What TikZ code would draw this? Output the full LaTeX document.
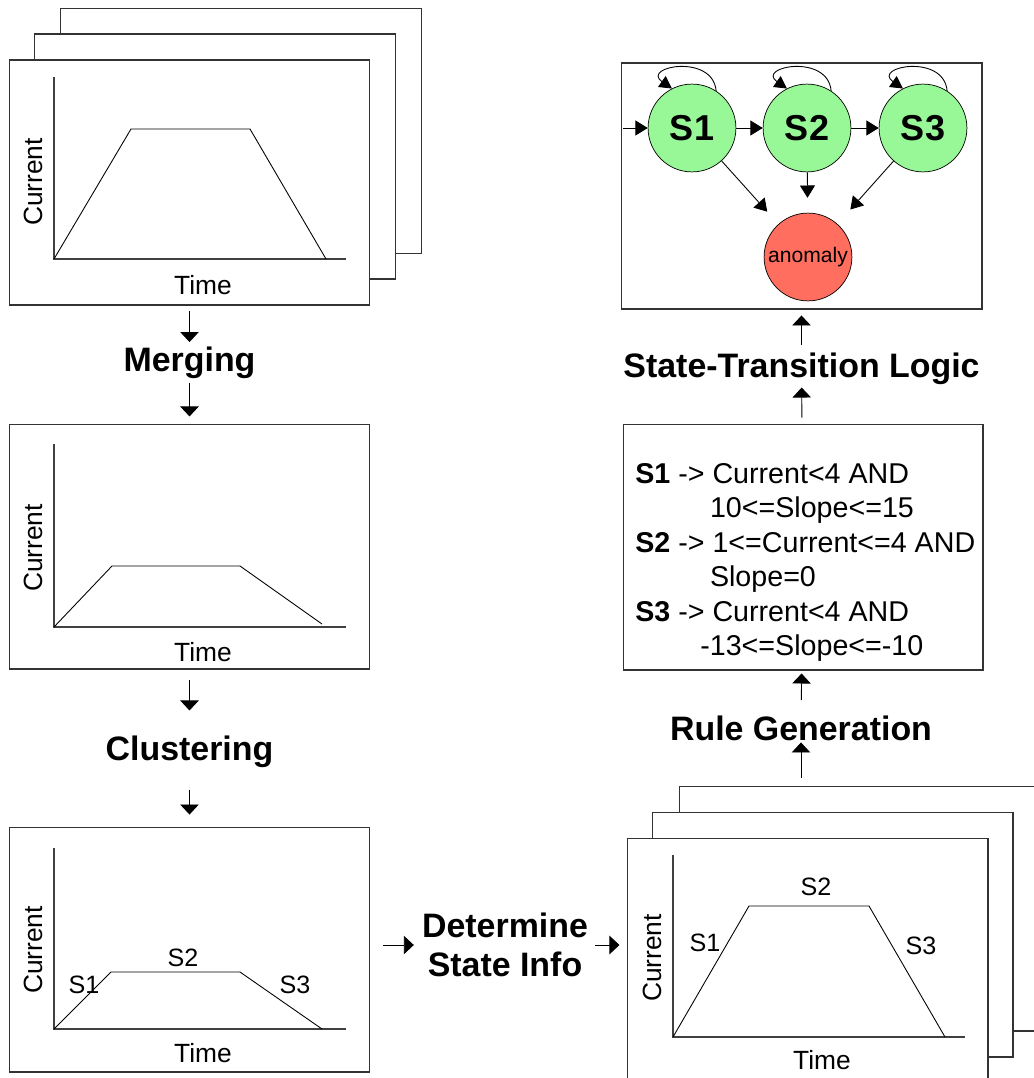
\documentclass[tikz,border=0pt]{standalone}
\usepackage{fontspec}
\setmainfont{Liberation Sans}
\usetikzlibrary{arrows.meta}

\definecolor{stategreen}{RGB}{152,248,152}
\definecolor{anomalyred}{RGB}{255,110,94}

\tikzset{
  panel/.style={draw=black!80, fill=white, line width=0.6pt, inner sep=0pt,
    minimum width=7.22cm, minimum height=4.9cm},
  steplabel/.style={inner sep=0pt, align=center,
    font=\fontsize{19.3}{22.1}\selectfont\bfseries},
  axislabel/.style={inner sep=0pt, font=\fontsize{15}{17}\selectfont},
  seglabel/.style={inner sep=0pt, font=\fontsize{14.3}{16}\selectfont},
  ruletext/.style={inner sep=0pt, align=left,
    font=\fontsize{16.3}{19.6}\selectfont},
  axis/.style={draw=black!75, line width=0.6pt},
  curve/.style={line width=0.5pt},
  flow/.style={-{Triangle[length=5.7pt,width=10.5pt]}, line width=0.5pt},
  fsmflow/.style={-{Triangle[length=7pt,width=8.5pt]}, line width=0.5pt},
  loopflow/.style={-{Triangle[length=7pt,width=7.5pt]}, line width=0.5pt},
  state/.style={circle, draw, fill=stategreen, minimum size=50pt, inner sep=0pt,
    font=\fontsize{20.5}{22}\selectfont\bfseries},
  badstate/.style={circle, draw, fill=anomalyred, minimum size=50pt, inner sep=0pt,
    font=\fontsize{12}{14}\selectfont}
}

\begin{document}
\begin{tikzpicture}[x=0.02cm, y=0.02cm]
        \useasboundingbox (0,0) rectangle (1034,-1078);
        \clip (0,0) rectangle (1034,-1078);

        % Input stack (top left):
        \node[panel] (stackA3) at (241,-131) {};
        \node[panel] (stackA2) at (215,-156.5) {};
        \node[panel] (stackA1) at (189.5,-182.5) {};
        \begin{scope}[shift={(54,-259)}]
        \draw[axis] (0,182) -- (0,0) -- (292,0);
        \draw[curve] (0,0) -- (77,130) -- (196,130) -- (272,0);
        \node[axislabel, rotate=90] (curA) at (-21,77) {Current};
        \node[axislabel] (timeA) at (149,-26) {Time};
        \end{scope}

        % Merged plot:
        \node[panel] (frameB) at (189.5,-546.5) {};
        \begin{scope}[shift={(54,-627)}]
        \draw[axis] (0,183) -- (0,0) -- (292,0);
        \draw[curve] (0,0) -- (58,61) -- (186,61) -- (268,3);
        \node[axislabel, rotate=90] (curB) at (-21,79) {Current};
        \node[axislabel] (timeB) at (149,-25) {Time};
        \end{scope}

        % Clustered plot:
        \node[panel] (frameC) at (189.5,-949.5) {};
        \begin{scope}[shift={(54,-1029)}]
        \draw[axis] (0,181) -- (0,0) -- (292,0);
        \draw[curve] (0,0) -- (57,57) -- (186,57) -- (268,0);
        \node[axislabel, rotate=90] (curC) at (-21,79) {Current};
        \node[axislabel] (timeC) at (149,-24) {Time};
        \node[seglabel] (segC1) at (30,44) {S1};
        \node[seglabel] (segC2) at (129,71) {S2};
        \node[seglabel] (segC3) at (241,44) {S3};
        \end{scope}

        % Labelled stack (bottom right):
        \node[panel] (stackB3) at (859.5,-908.5) {};
        \node[panel] (stackB2) at (832.5,-934.5) {};
        \node[panel] (stackB1) at (807.5,-960.5) {};
        \begin{scope}[shift={(673,-1037)}]
        \draw[axis] (0,182) -- (0,0) -- (292,0);
        \draw[curve] (0,0) -- (76,131) -- (196,131) -- (272,0);
        \node[axislabel, rotate=90] (curD) at (-21,79) {Current};
        \node[axislabel] (timeD) at (149,-23) {Time};
        \node[seglabel] (segD1) at (32,94) {S1};
        \node[seglabel] (segD2) at (143,150) {S2};
        \node[seglabel] (segD3) at (248,91) {S3};
        \end{scope}

        % Rules:
        \node[panel, minimum width=7.2cm, minimum height=4.92cm] (rulebox) at (803,-547) {};
        \node[ruletext, anchor=north west] (rules) at (635,-463) {%
        \textbf{S1} -> Current<4 AND\\
        \hspace*{42.5pt}10<=Slope<=15\\
        \textbf{S2} -> 1<=Current<=4 AND\\
        \hspace*{42.5pt}Slope=0\\
        \textbf{S3} -> Current<4 AND\\
        \hspace*{37pt}-13<=Slope<=-10};

        % State machine:
        \node[panel, minimum width=7.22cm, minimum height=4.92cm] (fsmbox) at (801.5,-186) {};
        \node[state] (s1) at (692,-128) {S1};
        \node[state] (s2) at (807,-128) {S2};
        \node[state] (s3) at (923,-128) {S3};
        \node[badstate] (anomaly) at (808,-257) {anomaly};
        \coordinate (entry) at (623,-128);
        \draw[fsmflow] (entry) -- (s1);
        \draw[fsmflow] (s1) -- (s2);
        \draw[fsmflow] (s2) -- (s3);
        \foreach \s in {s1,s2,s3}{%
        \draw[loopflow] (\s.57) to[out=95, in=145, looseness=2.2] (\s.117);
        }
        \draw[fsmflow, shorten >=9.5pt] (s1) -- (anomaly);
        \draw[fsmflow, shorten >=8.5pt] (s2) -- (anomaly);
        \draw[fsmflow, shorten >=11pt] (s3) -- (anomaly);

        % Step labels:
        \node[steplabel, anchor=base] (merging) at (189.5,-371) {Merging};
        \node[steplabel, anchor=base] (clustering) at (189.5,-760) {Clustering};
        \node[steplabel] (determine) at (505,-945) {Determine\\State Info};
        \node[steplabel, anchor=base] (rulegen) at (801,-740) {Rule Generation};
        \node[steplabel, anchor=base] (statelogic) at (801.5,-377) {State-Transition Logic};

        % Flow arrows:
        \draw[flow, shorten <=3.4pt, shorten >=2.3pt] (stackA1) -- (merging);
        \draw[flow, shorten <=2.8pt, shorten >=4pt] (merging) -- (frameB);
        \draw[flow, shorten <=5.7pt, shorten >=14pt] (frameB) -- (clustering);
        \draw[flow, shorten <=12.5pt, shorten >=6.8pt] (clustering) -- (frameC);
        \draw[flow, shorten <=7.4pt, shorten >=4.5pt] (frameC.east |- determine.west) -- (determine.west);
        \draw[flow, shorten <=4pt, shorten >=4pt] (determine.east) -- (determine.east -| stackB1.west);
        \draw[flow, shorten <=4.5pt, shorten >=1pt] (stackB3.north -| rulegen.south) -- (rulegen.south);
        \draw[flow, shorten <=8.5pt, shorten >=1.7pt] (rulegen) -- (rulebox);
        \draw[flow, shorten <=3.4pt, shorten >=1.7pt] (rulebox) -- (statelogic);
        \draw[flow, shorten <=4pt, shorten >=3.4pt] (statelogic) -- (fsmbox);

\end{tikzpicture}
\end{document}
